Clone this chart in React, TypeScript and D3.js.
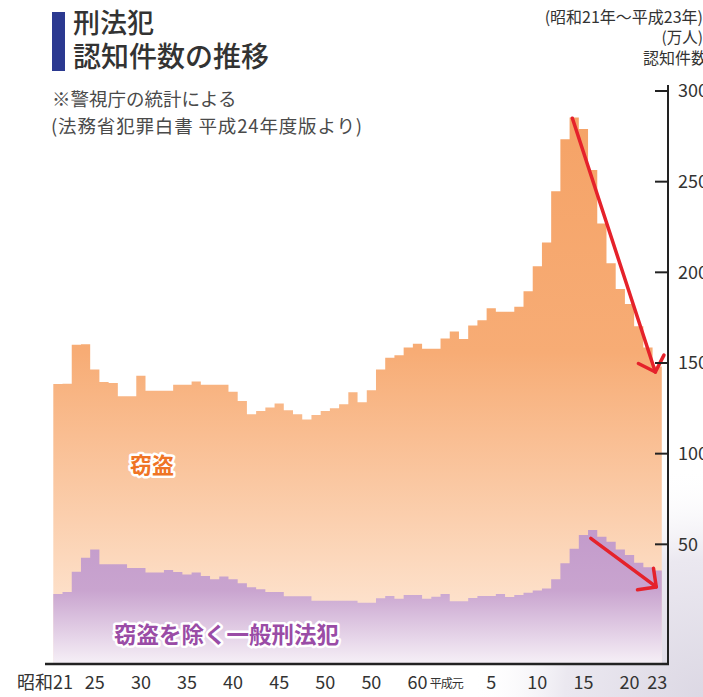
import React from "react";
import * as d3 from "d3";

const width = 703;
const height = 697;
const font = "'Noto Sans CJK JP', 'Noto Sans', sans-serif";

// years: 昭和21〜63, 平成元〜23 (66 years)
const showaYears = d3.range(21, 64);
const heiseiYears = d3.range(1, 24);

// 一般刑法犯 認知件数 (万件)
const totalCrimes = [
  138.4, 138.6, 160, 160.3, 146.4, 139.5, 139, 131.7, 131.7, 143,
  134.7, 134.7, 134.7, 138, 138, 139.8, 138, 138, 138, 134.1,
  129, 121.8, 123.5, 125.5, 127.7, 124, 121.8, 118.9, 121.3, 123.5,
  125.1, 127.3, 133.9, 128.4, 135, 146.4, 152.9, 154.3, 158.6, 160.6,
  157.8, 157.8, 163.5,
  167.4, 163.2, 170.7, 173.6, 180.2, 178.2, 178.2, 181, 189.6, 203.4,
  216.5, 244.7, 273.4, 285.4, 279, 256.5, 226.9, 205, 190.8, 182.6,
  170.3, 158.6, 148.1
];

// 窃盗を除く一般刑法犯 (万件)
const nonTheft = [
  22.6, 23.7, 34.9, 42.6, 47.2, 39, 39, 39, 36.9, 36.9,
  34.5, 34.5, 35.8, 34.7, 33.4, 34.5, 32.5, 30.7, 32.3, 30.7,
  28.5, 26.3, 25.2, 23.7, 23.7, 21.3, 21.3, 21.3, 18.9, 18.9,
  18.9, 18.9, 18.9, 17.8, 17.8, 20.2, 21.5, 20, 22, 22,
  20, 21.1, 22.6,
  18.6, 18.6, 20.4, 21.5, 21.5, 22.6, 21, 22, 23.3, 24.6,
  25.7, 30.7, 39.5, 47.6, 55.1, 57.9, 54.2, 51.4, 47.2, 44.1,
  39.9, 37.3, 35.5
];

const yTicks = [50, 100, 150, 200, 250, 300];
// the source labels 昭和55 as "50" as well
const xTickLabels = ["昭和21", "25", "30", "35", "40", "45", "50", "50", "60", "平成元", "5", "10", "15", "20", "23"];
const xTickYears = ["S21", "S25", "S30", "S35", "S40", "S45", "S50", "S55", "S60", "H1", "H5", "H10", "H15", "H20", "H23"];

const years = [...showaYears.map((y) => "S" + y), ...heiseiYears.map((y) => "H" + y)];

const x = d3.scaleLinear().domain([0, years.length]).range([53.3, 661.8]);
const y = d3.scaleLinear().domain([-16, 300]).range([664, 91]);

function stepPoints(values: number[]) {
  const pts = values.map((v, i) => [i, v] as [number, number]);
  pts.push([values.length, values[values.length - 1]]);
  return pts;
}

const area = d3
  .area<[number, number]>()
  .x((d) => x(d[0]))
  .y0(y(-16))
  .y1((d) => y(d[1]))
  .curve(d3.curveStepAfter);

function Arrow({ from, to }: { from: [number, number]; to: [number, number] }) {
  const x1 = x(from[0]), y1 = y(from[1]);
  const x2 = x(to[0]), y2 = y(to[1]);
  const ang = Math.atan2(y1 - y2, x1 - x2);
  const len = 19;
  const a1 = ang + Math.PI / 4, a2 = ang - Math.PI / 4;
  const head = `M${x2 + len * Math.cos(a1)},${y2 + len * Math.sin(a1)}L${x2},${y2}L${x2 + len * Math.cos(a2)},${y2 + len * Math.sin(a2)}`;
  return (
    <g stroke="#e5222b" strokeWidth={3.5} fill="none" strokeLinecap="round" strokeLinejoin="round">
      <line x1={x1} y1={y1} x2={x2} y2={y2} />
      <path d={head} />
    </g>
  );
}

export default function App() {
  const tickX = (yr: string) => x(years.indexOf(yr) + 0.5);
  return (
    <svg
      width={width}
      height={height}
      style={{ position: "absolute", left: 0, top: 0, background: "#fff" }}
      fontFamily={font}
    >
      <defs>
        <linearGradient id="orangeGrad" gradientUnits="userSpaceOnUse" x1="0" y1="117" x2="0" y2="640">
          <stop offset="0" stopColor="#f5a367" />
          <stop offset="0.45" stopColor="#f7ac75" />
          <stop offset="1" stopColor="#fee9d8" />
        </linearGradient>
        <linearGradient id="purpleGrad" gradientUnits="userSpaceOnUse" x1="0" y1="530" x2="0" y2="664">
          <stop offset="0" stopColor="#c39bcb" />
          <stop offset="0.45" stopColor="#c9a4cf" />
          <stop offset="1" stopColor="#f6f0f7" />
        </linearGradient>
        <radialGradient id="bgGrad" gradientUnits="userSpaceOnUse" cx="703" cy="697" r="230">
          <stop offset="0" stopColor="#dcd8e4" />
          <stop offset="0.6" stopColor="#ebe8f0" />
          <stop offset="1" stopColor="#ffffff" stopOpacity="0" />
        </radialGradient>
      </defs>

      <rect x={0} y={0} width={width} height={height} fill="url(#bgGrad)" />

      {/* title */}
      <rect x={52} y={12} width={13} height={59} fill="#2b3990" />
      <text x={73} y={33} fontSize={27} fontWeight={500} fill="#333">刑法犯</text>
      <text x={73} y={67} fontSize={28} fontWeight={500} fill="#333">認知件数の推移</text>
      <text x={52} y={106} fontSize={18.5} fill="#4a4a4a">※警視庁の統計による</text>
      <text x={51} y={133} fontSize={18.5} fill="#4a4a4a" textLength={311} lengthAdjust="spacing">(法務省犯罪白書 平成24年度版より)</text>

      <text x={703} y={23} fontSize={16} fill="#333" textAnchor="end">(昭和21年〜平成23年)</text>
      <text x={703} y={43} fontSize={15.5} fill="#333" textAnchor="end">(万人)</text>
      <text x={643} y={64} fontSize={16} fill="#333">認知件数</text>

      {/* areas */}
      <path d={area(stepPoints(totalCrimes)) ?? ""} fill="url(#orangeGrad)" />
      <path d={area(stepPoints(nonTheft)) ?? ""} fill="url(#purpleGrad)" />

      {/* series labels */}
      <text x={130} y={473} fontSize={22} fontWeight={700} fill="#ef7425" stroke="#fff" strokeWidth={5} strokeLinejoin="round" paintOrder="stroke">窃盗</text>
      <text x={114} y={643} fontSize={22.5} fontWeight={700} fill="#9a4ca6" stroke="#fff" strokeWidth={5} strokeLinejoin="round" paintOrder="stroke">窃盗を除く一般刑法犯</text>

      {/* arrows */}
      <Arrow from={[56.3, 285]} to={[65.3, 145]} />
      <Arrow from={[58.3, 53.3]} to={[65.4, 26.5]} />

      {/* y axis */}
      <line x1={668} x2={668} y1={85} y2={665} stroke="#222" strokeWidth={2} />
      {yTicks.map((t) => (
        <g key={t}>
          <line x1={655} x2={668} y1={y(t)} y2={y(t)} stroke="#222" strokeWidth={2} />
          <text x={678} y={y(t)} dy="0.36em" fontSize={18} fill="#333">{t}</text>
        </g>
      ))}

      {/* x axis */}
      <line x1={45} x2={669} y1={664} y2={664} stroke="#222" strokeWidth={2.5} />
      {xTickLabels.map((lab, i) => {
        const cx = tickX(xTickYears[i]);
        if (i === 0) {
          return (
            <text key={i} x={17} y={689} fontSize={18} fill="#333">{lab}</text>
          );
        }
        if (lab === "平成元") {
          return (
            <text key={i} x={cx - 8} y={688} fontSize={12} fill="#333" textAnchor="middle" letterSpacing={-1}>{lab}</text>
          );
        }
        return (
          <text key={i} x={cx} y={689} fontSize={18} fill="#333" textAnchor="middle">{lab}</text>
        );
      })}
    </svg>
  );
}
